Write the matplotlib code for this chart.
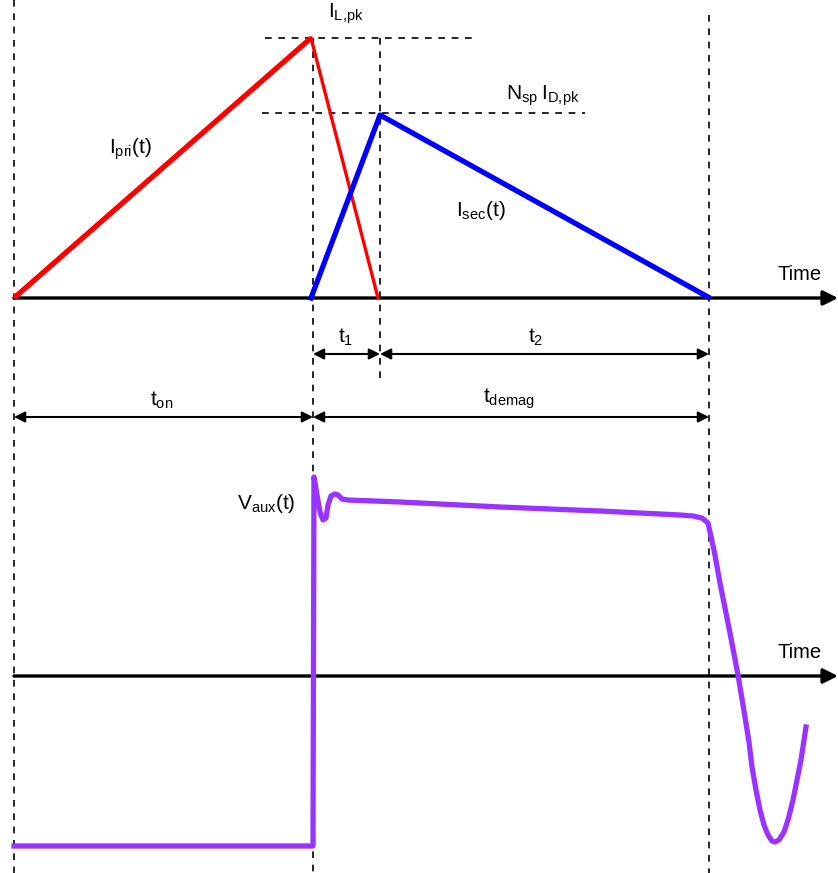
import matplotlib.pyplot as plt

plt.rcParams["font.family"] = ["Liberation Sans", "DejaVu Sans"]
plt.rcParams["mathtext.fontset"] = "custom"
plt.rcParams["mathtext.rm"] = "Liberation Sans"
plt.rcParams["mathtext.it"] = "Liberation Sans:italic"
plt.rcParams["mathtext.bf"] = "Liberation Sans:bold"

# key instants along the time axis (pixel-like units of the sketch)
t_start, t_on_end, t_pk2, t_end = 14, 313, 380, 709

# current waveforms (x, y) -- y grows downward
pri_x = [14, 311]
pri_y = [298, 38]
pri_fall_x = [311, 378]
pri_fall_y = [38, 298]
sec_x = [311, 380, 708]
sec_y = [298, 115, 297]

# auxiliary winding voltage
vaux_x = [14, 313, 314, 317, 320, 323, 326, 328, 331, 335, 338, 342, 348,
          400, 500, 600, 680, 693, 702, 708, 714, 720, 730, 738, 745, 749,
          752, 756, 760, 764, 768, 772, 775, 779, 784, 788, 793, 797, 801, 806]
vaux_y = [846, 846, 477, 495, 512, 520, 518, 505, 496, 494, 495, 499, 500,
          502, 507, 511, 515, 516, 518, 523, 550, 583, 633, 675, 717, 742,
          767, 790, 810, 825, 835, 841, 842, 840, 832, 820, 800, 780, 760, 727]

fig = plt.figure(figsize=(8.38, 8.73), dpi=100)
ax = fig.add_axes([0, 0, 1, 1])
ax.set_xlim(0, 838)
ax.set_ylim(873, 0)
ax.axis("off")

dash = dict(color="black", lw=1.2, ls=(0, (4, 4)))

# vertical guides
ax.plot([t_start, t_start], [0, 873], **dash)
ax.plot([t_on_end, t_on_end], [38, 873], **dash)
ax.plot([t_pk2, t_pk2], [38, 380], **dash)
ax.plot([t_end, t_end], [15, 873], **dash)
# horizontal guides
ax.plot([265, 478], [38, 38], **dash)
ax.plot([262, 585], [113, 113], **dash)

# time axes
for y in (298, 676):
    ax.annotate("", xy=(838, y), xytext=(14, y),
                arrowprops=dict(arrowstyle="-|>", color="black", lw=2.4,
                                mutation_scale=22, shrinkA=0, shrinkB=0))
    ax.text(800, y - 14, "Time", fontsize=14.5, ha="center", va="bottom")

# waveforms
ax.plot(pri_x, pri_y, color="#ff0000", lw=3.8, solid_capstyle="butt", zorder=3)
ax.plot(pri_fall_x, pri_fall_y, color="#ff0000", lw=2.4, zorder=3)
ax.plot(sec_x, sec_y, color="#0000ff", lw=3.8, zorder=4)
ax.plot(vaux_x, vaux_y, color="#9933ff", lw=3.8, zorder=3,
        solid_joinstyle="round")


# dimension arrows
def dim(x0, x1, y):
    ax.annotate("", xy=(x1, y), xytext=(x0, y),
                arrowprops=dict(arrowstyle="<|-|>", color="black", lw=1.5,
                                mutation_scale=16, shrinkA=0, shrinkB=0))


dim(313, 380, 354)
dim(380, 709, 354)
dim(14, 313, 417)
dim(313, 709, 417)

fs = 15
ax.text(346, 348, "t$_1$", fontsize=fs, ha="center", va="bottom")
ax.text(536, 348, "t$_2$", fontsize=fs, ha="center", va="bottom")
ax.text(162, 411, "t$_{\\mathrm{on}}$", fontsize=fs, ha="center", va="bottom")
ax.text(509, 411, "t$_{\\mathrm{demag}}$", fontsize=fs, ha="center", va="bottom")
ax.text(346, 26, "I$_{\\mathrm{L{,}pk}}$", fontsize=fs, ha="center", va="bottom")
ax.text(543, 108, "N$_{\\mathrm{sp}}$\u2009I$_{\\mathrm{D{,}pk}}$", fontsize=fs,
        ha="center", va="bottom")
ax.text(131, 162, "I$_{\\mathrm{pri}}$(t)", fontsize=fs, ha="center", va="bottom")
ax.text(481, 222, "I$_{\\mathrm{sec}}$(t)", fontsize=fs, ha="center", va="bottom")
ax.text(266, 515, "V$_{\\mathrm{aux}}$(t)", fontsize=fs, ha="center", va="bottom")

fig.savefig("out.png", dpi=100)
